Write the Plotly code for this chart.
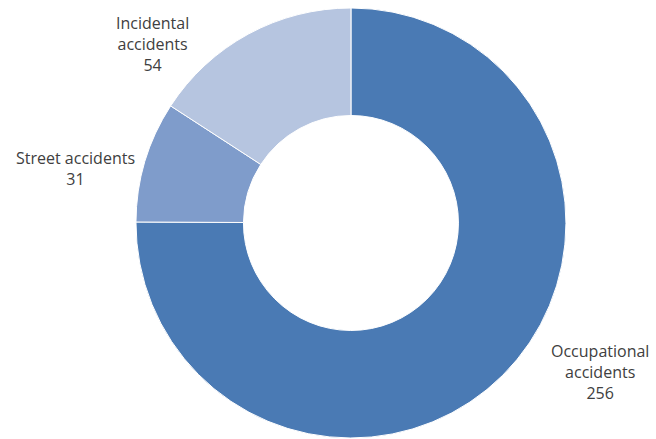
import plotly.graph_objects as go

categories = ["Occupational accidents", "Street accidents", "Incidental accidents"]
values = [256, 31, 54]
label_text = ["Occupational<br>accidents<br>256", "Street accidents<br>31", "Incidental<br>accidents<br>54"]
colors = ["#4a7ab4", "#7f9ccb", "#b6c5e0"]

fig = go.Figure(go.Pie(
    labels=categories, values=values, sort=False, direction="clockwise", rotation=0,
    hole=0.5, marker=dict(colors=colors, line=dict(color="white", width=1)),
    textinfo="none", showlegend=False,
    domain=dict(x=[0.15, 0.92], y=[0.0023, 0.9818]),
))

pos = [(600, 372), (75, 168), (152, 44)]
for (px, py), t in zip(pos, label_text):
    fig.add_annotation(x=px / 656, y=1 - py / 439, xref="paper", yref="paper",
                       text=t, showarrow=False, xanchor="center", yanchor="middle",
                       font=dict(family="Open Sans, sans-serif", size=16, color="#404040"))

fig.update_layout(width=656, height=439, margin=dict(l=0, r=0, t=0, b=0),
                  paper_bgcolor="white", plot_bgcolor="white")
fig.write_html("out.html")
